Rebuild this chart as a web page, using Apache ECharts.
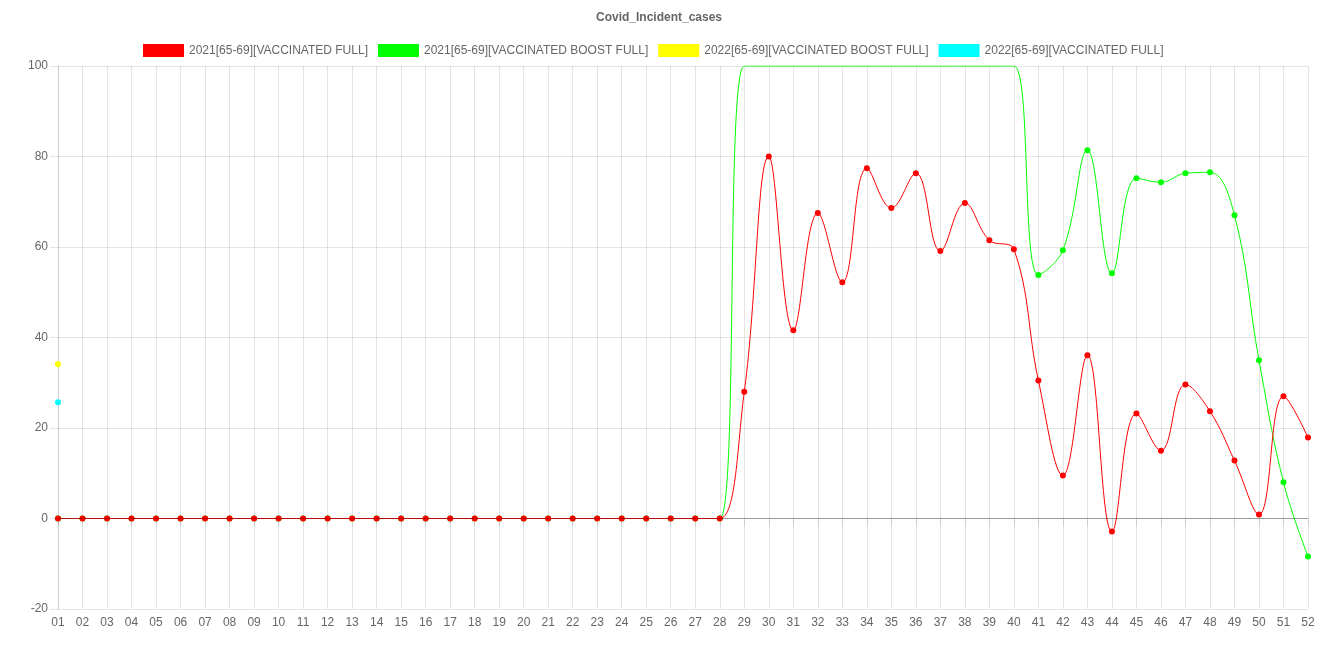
<!DOCTYPE html>
<html>
<head>
<meta charset="utf-8">
<script src="https://cdn.jsdelivr.net/npm/echarts@6/dist/echarts.min.js"></script>
<style>
html,body{margin:0;padding:0;background:#fff;}
#chart{width:1318px;height:659px;}
</style>
</head>
<body>
<div id="chart"></div>
<script>
const categories = ['01','02','03','04','05','06','07','08','09','10','11','12','13','14','15','16','17','18','19','20','21','22','23','24','25','26','27','28','29','30','31','32','33','34','35','36','37','38','39','40','41','42','43','44','45','46','47','48','49','50','51','52'];

const seriesNames = ['2021[65-69][VACCINATED FULL]','2021[65-69][VACCINATED BOOST FULL]','2022[65-69][VACCINATED BOOST FULL]','2022[65-69][VACCINATED FULL]'];

const red2021Full = [0,0,0,0,0,0,0,0,0,0,0,0,0,0,0,0,0,0,0,0,0,0,0,0,0,0,0,0,
  28,80,41.6,67.5,52.2,77.4,68.6,76.3,59.1,69.7,61.5,59.5,30.5,9.5,36.1,-2.9,23.2,15.0,29.6,23.7,12.8,0.9,27.0,17.9];

// weeks 29-40 run off the top of the axis (shown at the 100 ceiling)
const green2021Boost = [0,0,0,0,0,0,0,0,0,0,0,0,0,0,0,0,0,0,0,0,0,0,0,0,0,0,0,0,
  100,100,100,100,100,100,100,100,100,100,100,100,53.8,59.3,81.4,54.2,75.2,74.3,76.3,76.5,67.0,35.0,8.0,-8.4];

const yellow2022Boost = [34.1];
const cyan2022Full = [25.7];

const yTicks = {min:-20, max:100, interval:20};

const colors = ['#ff0000','#00ff00','#ffff00','#00ffff'];

function pad(arr){ const out = arr.slice(); while(out.length < categories.length) out.push(null); return out; }

const font = '"Liberation Sans", Arial, Helvetica, sans-serif';
const chart = echarts.init(document.getElementById('chart'));

function mk(i, data, extra){
  return Object.assign({
    name: seriesNames[i],
    type: 'line',
    data: data,
    smooth: 0.4,
    symbol: 'circle',
    symbolSize: function(v){ return (v !== null && v >= yTicks.max) ? 0 : 6; },
    showSymbol: true,
    lineStyle: {color: colors[i], width: 1},
    itemStyle: {color: colors[i]},
    clip: true,
    animation: false
  }, extra || {});
}

chart.setOption({
  animation: false,
  textStyle: {fontFamily: font},
  title: {
    text: 'Covid_Incident_cases',
    left: 'center',
    top: 7,
    textStyle: {fontFamily: font, fontSize: 12, fontWeight: 'bold', color: '#666'}
  },
  legend: {
    top: 39,
    left: 138,
    icon: 'rect',
    itemWidth: 41,
    itemHeight: 13,
    itemGap: 10,
    textStyle: {fontFamily: font, fontSize: 12, color: '#666'},
    data: seriesNames
  },
  grid: {left: 58, right: 10, top: 66, bottom: 50, containLabel: false},
  xAxis: {
    type: 'category',
    data: categories,
    boundaryGap: false,
    axisLine: {show: true, lineStyle: {color: 'rgba(0,0,0,0.1)'}},
    axisTick: {show: true, length: 8, alignWithLabel: true, lineStyle: {color: 'rgba(0,0,0,0.1)'}},
    axisLabel: {color: '#666', fontSize: 12, fontFamily: font, margin: 8, interval: 0},
    splitLine: {show: true, lineStyle: {color: 'rgba(0,0,0,0.1)'}}
  },
  yAxis: {
    type: 'value',
    min: yTicks.min,
    max: yTicks.max,
    interval: yTicks.interval,
    axisLine: {show: true, lineStyle: {color: 'rgba(0,0,0,0.1)'}},
    axisTick: {show: true, length: 8, lineStyle: {color: 'rgba(0,0,0,0.1)'}},
    axisLabel: {color: '#666', fontSize: 12, fontFamily: font, margin: 10},
    splitLine: {show: true, lineStyle: {color: 'rgba(0,0,0,0.1)'}}
  },
  series: [
    mk(0, red2021Full, {z: 4, markLine: {
      silent: true, symbol: 'none', label: {show: false},
      lineStyle: {color: 'rgba(0,0,0,0.25)', width: 1, type: 'solid'},
      data: [{yAxis: 0}]
    }}),
    mk(1, green2021Boost, {z: 3}),
    mk(2, pad(yellow2022Boost), {z: 2}),
    mk(3, pad(cyan2022Full), {z: 2})
  ]
});
</script>
</body>
</html>
